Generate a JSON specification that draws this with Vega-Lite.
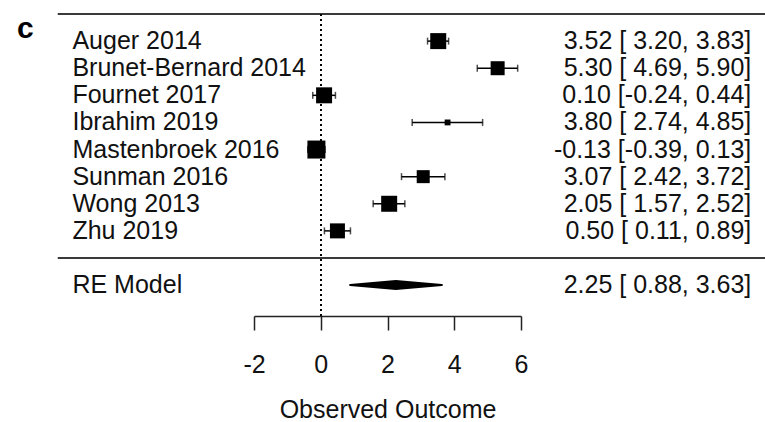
{
  "$schema": "https://vega.github.io/schema/vega-lite/v6.json",
  "width": 267,
  "height": 302,
  "autosize": {"type": "none"},
  "padding": {"left": 254, "top": 14, "right": 244, "bottom": 106},
  "background": "white",
  "config": {"view": {"stroke": null}, "font": "Liberation Sans"},
  "title": {"text": "c", "anchor": "start", "frame": "group", "fontSize": 30, "fontWeight": "bold", "color": "#000", "dx": -237, "offset": -31},
  "datasets": {
    "rows": [
      {"study": "Auger 2014", "row": 8, "est": 3.52, "lb": 3.20, "ub": 3.83, "weight": 15.0, "ci": "3.52 [ 3.20, 3.83]", "type": "study"},
      {"study": "Brunet-Bernard 2014", "row": 7, "est": 5.30, "lb": 4.69, "ub": 5.90, "weight": 11.5, "ci": "5.30 [ 4.69, 5.90]", "type": "study"},
      {"study": "Fournet 2017", "row": 6, "est": 0.10, "lb": -0.24, "ub": 0.44, "weight": 15.0, "ci": "0.10 [-0.24, 0.44]", "type": "study"},
      {"study": "Ibrahim 2019", "row": 5, "est": 3.80, "lb": 2.74, "ub": 4.85, "weight": 2.0, "ci": "3.80 [ 2.74, 4.85]", "type": "study"},
      {"study": "Mastenbroek 2016", "row": 4, "est": -0.13, "lb": -0.39, "ub": 0.13, "weight": 19.0, "ci": "-0.13 [-0.39, 0.13]", "type": "study"},
      {"study": "Sunman 2016", "row": 3, "est": 3.07, "lb": 2.42, "ub": 3.72, "weight": 9.9, "ci": "3.07 [ 2.42, 3.72]", "type": "study"},
      {"study": "Wong 2013", "row": 2, "est": 2.05, "lb": 1.57, "ub": 2.52, "weight": 15.0, "ci": "2.05 [ 1.57, 2.52]", "type": "study"},
      {"study": "Zhu 2019", "row": 1, "est": 0.50, "lb": 0.11, "ub": 0.89, "weight": 13.2, "ci": "0.50 [ 0.11, 0.89]", "type": "study"},
      {"study": "RE Model", "row": -1, "est": 2.25, "lb": 0.88, "ub": 3.63, "weight": null, "ci": "2.25 [ 0.88, 3.63]", "type": "summary"}
    ],
    "hlines": [{"y": 9}, {"y": 0}]
  },
  "layer": [
    {
      "data": {"name": "hlines"},
      "mark": {"type": "rule", "stroke": "#3a3a3a", "strokeWidth": 2},
      "encoding": {
        "y": {"field": "y", "type": "quantitative", "scale": {"domain": [-2.14, 9], "nice": false, "zero": false}, "axis": null},
        "x": {"datum": -7.88, "type": "quantitative", "scale": {"domain": [-2, 6], "nice": false, "zero": false},
          "axis": {"values": [-2, 0, 2, 4, 6], "labelExpr": "'' + datum.value", "tickSize": 14, "tickWidth": 1.5, "tickColor": "#222", "domainColor": "#222", "domainWidth": 1.5, "labelFontSize": 25, "labelColor": "#111", "labelPadding": 22, "labelFlush": false, "labelOverlap": false, "grid": false, "title": "Observed Outcome", "titleFontSize": 25, "titleFontWeight": "normal", "titleColor": "#111", "titlePadding": 20}},
        "x2": {"datum": 13.33}
      }
    },
    {
      "data": {"name": "rows"},
      "mark": {"type": "rule", "stroke": "#000", "strokeWidth": 1.5, "strokeDash": [2, 3]},
      "encoding": {
        "x": {"datum": 0, "type": "quantitative"}
      }
    },
    {
      "data": {"name": "rows"},
      "transform": [{"filter": "datum.type === 'study'"}],
      "mark": {"type": "rule", "stroke": "#000", "strokeWidth": 1.5},
      "encoding": {
        "x": {"field": "lb", "type": "quantitative"},
        "x2": {"field": "ub"},
        "y": {"field": "row", "type": "quantitative"}
      }
    },
    {
      "data": {"name": "rows"},
      "transform": [{"filter": "datum.type === 'study'"}],
      "mark": {"type": "tick", "orient": "vertical", "color": "#000", "size": 7, "thickness": 1.5},
      "encoding": {
        "x": {"field": "lb", "type": "quantitative"},
        "y": {"field": "row", "type": "quantitative"}
      }
    },
    {
      "data": {"name": "rows"},
      "transform": [{"filter": "datum.type === 'study'"}],
      "mark": {"type": "tick", "orient": "vertical", "color": "#000", "size": 7, "thickness": 1.5},
      "encoding": {
        "x": {"field": "ub", "type": "quantitative"},
        "y": {"field": "row", "type": "quantitative"}
      }
    },
    {
      "data": {"name": "rows"},
      "transform": [{"filter": "datum.type === 'study'"}],
      "mark": {"type": "point", "shape": "square", "filled": true, "color": "#000", "opacity": 1},
      "encoding": {
        "x": {"field": "est", "type": "quantitative"},
        "y": {"field": "row", "type": "quantitative"},
        "size": {"field": "weight", "type": "quantitative", "scale": {"domain": [0, 20], "range": [0, 341]}, "legend": null}
      }
    },
    {
      "data": {"name": "rows"},
      "transform": [{"filter": "datum.type === 'summary'"}, {"fold": ["lb", "est", "ub"], "as": ["part", "xv"]}],
      "mark": {"type": "trail", "color": "#000"},
      "encoding": {
        "x": {"field": "xv", "type": "quantitative"},
        "y": {"field": "row", "type": "quantitative"},
        "order": {"field": "xv", "type": "quantitative"},
        "size": {"field": "part", "type": "nominal", "scale": {"type": "ordinal", "domain": ["lb", "est", "ub"], "range": [2, 10, 2]}, "legend": null}
      }
    },
    {
      "data": {"name": "rows"},
      "mark": {"type": "text", "align": "left", "baseline": "middle", "fontSize": 25, "color": "#111"},
      "encoding": {
        "x": {"datum": -7.44, "type": "quantitative"},
        "y": {"field": "row", "type": "quantitative"},
        "text": {"field": "study"}
      }
    },
    {
      "data": {"name": "rows"},
      "mark": {"type": "text", "align": "right", "baseline": "middle", "fontSize": 25, "color": "#111"},
      "encoding": {
        "x": {"datum": 12.9, "type": "quantitative"},
        "y": {"field": "row", "type": "quantitative"},
        "text": {"field": "ci"}
      }
    }
  ]
}
